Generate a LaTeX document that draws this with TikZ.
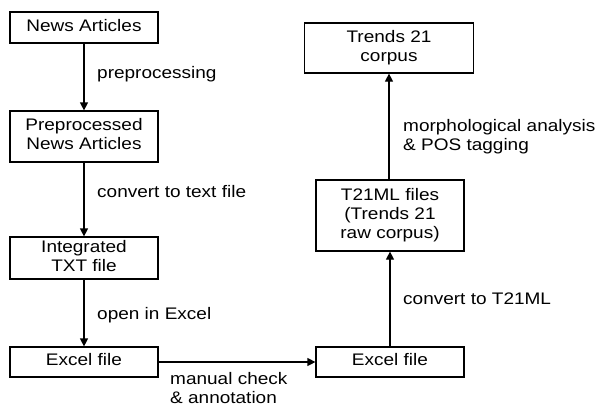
\documentclass[tikz,border=0pt]{standalone}
\usepackage{fontspec}
\setmainfont{Liberation Sans}
\usetikzlibrary{arrows.meta}
\newcommand{\sqc}[1]{\scalebox{1}[0.88]{\begin{tabular}{@{}c@{}}#1\end{tabular}}}
\newcommand{\sql}[1]{\scalebox{1}[0.88]{\begin{tabular}{@{}l@{}}#1\end{tabular}}}
\begin{document}
\begin{tikzpicture}[x=1pt,y=-1pt,
  box/.style={draw,line width=1.2pt,inner sep=0pt,minimum width=148pt},
  lbl/.style={anchor=west,inner sep=0pt},
  arr/.style={line width=1.2pt,-{Triangle[length=8pt,width=8pt]}},
  every node/.style={font=\fontsize{19}{21.6}\selectfont}]
\useasboundingbox (0,0) rectangle (599,408);
\node[box,minimum height=31pt] (a) at (84,27.5) {\sqc{News Articles}};
\node[box,minimum height=51pt] (b) at (84,136.5) {\sqc{Preprocessed\\News Articles}};
\node[box,minimum height=42pt] (c) at (84,258) {\sqc{Integrated\\TXT file}};
\node[box,minimum height=30pt] (d) at (84,362) {\sqc{Excel file}};
\node[box,minimum height=30pt] (e) at (390,362) {\sqc{Excel file}};
\node[box,minimum height=71pt] (f) at (390,215.5) {\sqc{T21ML files\\(Trends 21\\raw corpus)}};
\node[box,minimum height=50pt,minimum width=169pt] (g) at (389,48) {\sqc{Trends 21\\corpus}};
\draw[arr] (a) -- (b);
\draw[arr] (b) -- (c);
\draw[arr] (c) -- (d);
\draw[arr] (d) -- (e);
\draw[arr] (e) -- (f);
\draw[arr] (f.north -| g) -- (g);
\node[lbl] (l1) at (97,75) {\sql{preprocessing}};
\node[lbl] (l2) at (97,194) {\sql{convert to text file}};
\node[lbl] (l3) at (97,316) {\sql{open in Excel}};
\node[lbl] (l4) at (170,390.5) {\sql{manual check\\\& annotation}};
\node[lbl] (l5) at (403,137.5) {\sql{morphological analysis\\\& POS tagging}};
\node[lbl] (l6) at (403,301) {\sql{convert to T21ML}};
\end{tikzpicture}
\end{document}
